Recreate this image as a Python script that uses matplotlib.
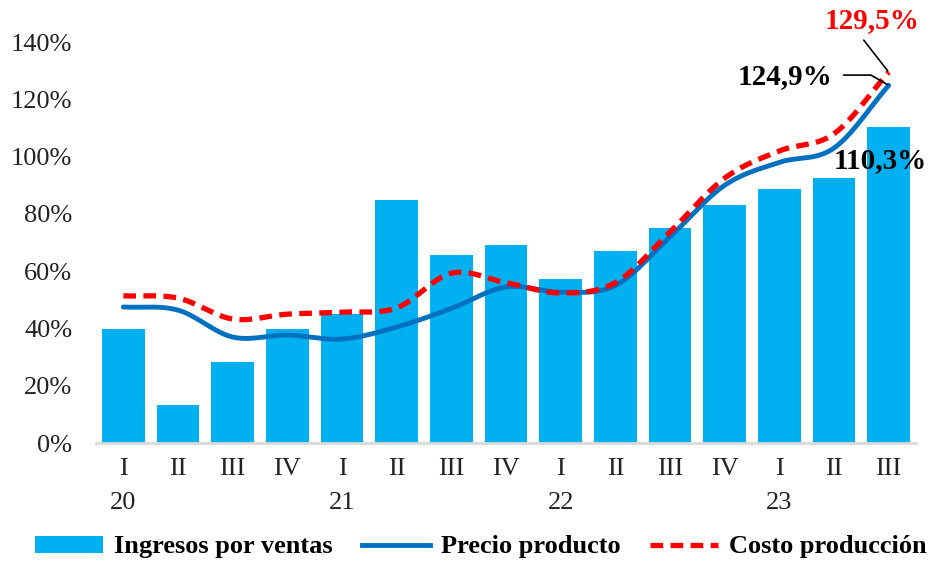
import numpy as np
import matplotlib
matplotlib.use('Agg')
import matplotlib.pyplot as plt
from matplotlib.patches import Patch
from matplotlib.lines import Line2D

plt.rcParams['font.family'] = ['Liberation Serif', 'DejaVu Serif']

quarters = ['I', 'II', 'III', 'IV', 'I', 'II', 'III', 'IV', 'I', 'II', 'III', 'IV', 'I', 'II', 'III']
years = ['20', '21', '22', '23']
year_pos = [0, 4, 8, 12]

ingresos = [39.8, 13.3, 28.3, 39.8, 45.0, 84.8, 65.6, 69.0, 57.3, 67.0, 75.0, 83.0, 88.7, 92.5, 110.3]
precio = [47.5, 46.4, 37.0, 37.7, 36.3, 40.5, 47.0, 54.5, 52.7, 55.0, 72.0, 90.0, 98.0, 103.0, 124.9]
costo = [51.4, 50.6, 43.3, 45.0, 45.7, 47.2, 59.3, 56.0, 52.4, 56.0, 73.7, 92.5, 102.0, 108.0, 129.5]


def smooth(y, n=30):
    # catmull-rom curve through the points, like Excel's smoothed lines
    y = np.asarray(y, float)
    p = np.concatenate([[2 * y[0] - y[1]], y, [2 * y[-1] - y[-2]]])
    xs, ys = [], []
    t = np.linspace(0, 1, n)
    for i in range(len(y) - 1):
        p0, p1, p2, p3 = p[i], p[i + 1], p[i + 2], p[i + 3]
        yy = 0.5 * (2 * p1 + (-p0 + p2) * t + (2 * p0 - 5 * p1 + 4 * p2 - p3) * t ** 2
                    + (-p0 + 3 * p1 - 3 * p2 + p3) * t ** 3)
        xs.append(i + t)
        ys.append(yy)
    return np.concatenate(xs), np.concatenate(ys)


fig = plt.figure(figsize=(9.35, 5.61), dpi=100)
ax = fig.add_axes([0.1027, 0.2103, 0.877, 0.7147])

x = np.arange(len(quarters))
ax.bar(x, ingresos, width=0.78, color='#00B0F0', zorder=1)

xs, ys = smooth(precio)
ax.plot(xs, ys, color='#0070C0', linewidth=3.5, solid_capstyle='round', zorder=2)
xs, ys = smooth(costo)
ax.plot(xs, ys, color='#FF0000', linewidth=3.8, linestyle=(0, (2.4, 1.4)), zorder=3)

ax.set_xlim(-0.5, len(quarters) - 0.5)
ax.set_ylim(0, 140)
ax.set_yticks(np.arange(0, 141, 20))
ax.set_yticklabels([f'{v}%' for v in range(0, 141, 20)])
ax.set_xticks(x)
ax.set_xticklabels(quarters)
for i, yr in zip(year_pos, years):
    ax.text(i, -0.15, yr, transform=ax.get_xaxis_transform(), ha='center', va='center',
            fontsize=19, color='#222222')

for s in ['top', 'right', 'left']:
    ax.spines[s].set_visible(False)
ax.spines['bottom'].set_color('#d9d9d9')
ax.spines['bottom'].set_linewidth(2)
ax.tick_params(axis='both', length=0, labelsize=19, labelcolor='#222222')
ax.tick_params(axis='x', pad=11)
ax.tick_params(axis='y', pad=17)

# labels for the last point
last = len(quarters) - 1
ax.annotate(f'{costo[-1]:.1f}%'.replace('.', ','), xy=(last, costo[-1]),
            xytext=(last - 0.3, 147.5), ha='center', va='center', fontsize=21,
            fontweight='bold', color='#FF0000', annotation_clip=False,
            arrowprops=dict(arrowstyle='-', color='black', lw=1.2, shrinkA=3, shrinkB=1,
                            relpos=(0.25, 0.5)))
ax.annotate(f'{precio[-1]:.1f}%'.replace('.', ','), xy=(last, precio[-1]),
            xytext=(last - 1.9, 128.0), ha='center', va='center', fontsize=21,
            fontweight='bold', color='black', annotation_clip=False,
            arrowprops=dict(arrowstyle='-', color='black', lw=1.2, shrinkA=0, shrinkB=1,
                            connectionstyle='angle,angleA=0,angleB=150,rad=0',
                            relpos=(1.12, 0.55)))
ax.text(last - 0.15, 98.8, f'{ingresos[-1]:.1f}%'.replace('.', ','), ha='center', va='center',
        fontsize=21, fontweight='bold', color='black', zorder=5)

handles = [Patch(facecolor='#00B0F0', edgecolor='none'),
           Line2D([], [], color='#0070C0', linewidth=3.5),
           Line2D([], [], color='#FF0000', linewidth=3.8, linestyle=(0, (2.4, 1.4)))]
labels = ['Ingresos por ventas', 'Precio producto', 'Costo producción']
fig.legend(handles, labels, loc='center', bbox_to_anchor=(0.514, 0.025), ncol=3,
           frameon=False, handlelength=2.6, handleheight=0.6, handletextpad=0.4,
           columnspacing=1.1, prop={'weight': 'bold', 'size': 19})

fig.savefig('out.png', dpi=100)
